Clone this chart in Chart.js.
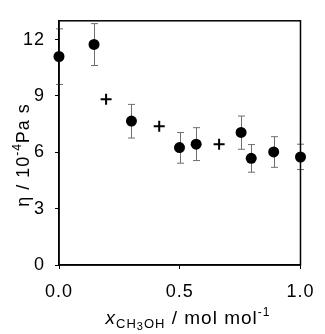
<!DOCTYPE html>
<html>
<head>
<meta charset="utf-8">
<script src="https://cdn.jsdelivr.net/npm/chart.js@4"></script>
<style>
  body { margin: 0; background: #fff; }
  #wrap { width: 325px; height: 334px; }
</style>
</head>
<body>
<div id="wrap"><canvas id="viscChart"></canvas></div>
<script>
// measured points (filled circles) with error bars
const xCircles = [0, 0.145, 0.30, 0.499, 0.568, 0.754, 0.796, 0.889, 1.0];
const yCircles = [11.1, 11.74, 7.66, 6.25, 6.43, 7.06, 5.68, 6.02, 5.75];
const errHigh = [12.57, 12.85, 8.55, 7.05, 7.31, 7.93, 6.41, 6.83, 6.43];
const errLow = [9.61, 10.62, 6.76, 5.42, 5.56, 6.16, 4.94, 5.2, 5.08];
// other values (plus markers)
const xPlus = [0.195, 0.415, 0.663];
const yPlus = [8.82, 7.38, 6.43];
// axes
const yTicks = [0, 3, 6, 9, 12];
const xTicks = [0, 0.5, 1.0];

const FONT = "'Liberation Sans', Arial, sans-serif";

// draws error bars, the frame and the two axis titles
const extras = {
    id: "extras",
    beforeInit(chart) {
        chart.ctx.letterSpacing = "1px"; // the original lettering is a bit spaced
    },
    beforeDraw(chart) {
        chart.ctx.letterSpacing = "1px";
    },
    beforeDatasetsDraw(chart) {
        const ctx = chart.ctx;
        const xs = chart.scales.x, ys = chart.scales.y;
        ctx.save();
        ctx.strokeStyle = "#6e6e6e";
        ctx.lineWidth = 1;
        for (let i = 0; i < xCircles.length; i++) {
            const px = Math.round(xs.getPixelForValue(xCircles[i])) + 0.5;
            const top = ys.getPixelForValue(errHigh[i]);
            const bot = ys.getPixelForValue(errLow[i]);
            ctx.beginPath();
            ctx.moveTo(px, top); ctx.lineTo(px, bot);
            ctx.moveTo(px - 3.5, top); ctx.lineTo(px + 3.5, top);
            ctx.moveTo(px - 3.5, bot); ctx.lineTo(px + 3.5, bot);
            ctx.stroke();
        }
        ctx.restore();
    },
    afterDraw(chart) {
        const ctx = chart.ctx;
        const a = chart.chartArea;
        ctx.save();
        ctx.letterSpacing = "1px";
        // frame
        ctx.strokeStyle = "#000";
        ctx.lineWidth = 1.5;
        ctx.strokeRect(a.left, a.top, a.right - a.left, a.bottom - a.top);

        ctx.fillStyle = "#000";
        ctx.textBaseline = "alphabetic";

        // x title: x_CH3OH / mol mol^-1
        const parts = [
            { t: "x", f: "italic 19px " + FONT, dy: 0 },
            { t: "CH", f: "13px " + FONT, dy: 4 },
            { t: "3", f: "11px " + FONT, dy: 6 },
            { t: "OH", f: "13px " + FONT, dy: 4 },
            { t: " / mol mol", f: "19px " + FONT, dy: 0 },
            { t: "-1", f: "12px " + FONT, dy: -8 }
        ];
        let w = 0;
        parts.forEach(p => { ctx.font = p.f; p.w = ctx.measureText(p.t).width; w += p.w; });
        let x0 = 188 - w / 2;
        const yBase = 324;
        parts.forEach(p => {
            ctx.font = p.f;
            ctx.fillText(p.t, x0, yBase + p.dy);
            x0 += p.w;
        });

        // y title: η / 10^-4 Pa s (rotated)
        const yparts = [
            { t: "η / 10", f: "18px " + FONT, dy: 0 },
            { t: "-4", f: "12px " + FONT, dy: -8 },
            { t: "Pa s", f: "18px " + FONT, dy: 0 }
        ];
        let wy = 0;
        yparts.forEach(p => { ctx.font = p.f; p.w = ctx.measureText(p.t).width; wy += p.w; });
        ctx.translate(29, 155);
        ctx.rotate(-Math.PI / 2);
        let s = -wy / 2;
        yparts.forEach(p => {
            ctx.font = p.f;
            ctx.fillText(p.t, s, p.dy);
            s += p.w;
        });
        ctx.restore();
    }
};

const ctx = document.getElementById("viscChart").getContext("2d");
const chart = new Chart(ctx, {
    type: "scatter",
    data: {
        datasets: [
            {
                data: xCircles.map((x, i) => ({ x: x, y: yCircles[i] })),
                pointStyle: "circle",
                pointRadius: 5.5,
                pointBackgroundColor: "#000",
                pointBorderColor: "#000",
                pointBorderWidth: 0,
                clip: false
            },
            {
                data: xPlus.map((x, i) => ({ x: x, y: yPlus[i] })),
                pointStyle: "cross",
                pointRadius: 5.5,
                pointBorderColor: "#000",
                pointBorderWidth: 2,
                clip: false
            }
        ]
    },
    options: {
        responsive: true,
        maintainAspectRatio: false,
        animation: false,
        layout: { padding: { top: 20, right: 20, left: 0, bottom: 0 } },
        plugins: {
            legend: { display: false },
            tooltip: { enabled: false }
        },
        scales: {
            x: {
                type: "linear",
                min: 0,
                max: 1,
                afterBuildTicks: s => { s.ticks = xTicks.map(v => ({ value: v })); },
                afterFit: s => { s.height = 69; },
                ticks: {
                    color: "#000",
                    font: { family: FONT, size: 18 },
                    padding: 12,
                    maxRotation: 0,
                    callback: v => v.toFixed(1)
                },
                grid: { drawOnChartArea: false, tickLength: 4, color: "#000" },
                border: { color: "#000", width: 1.5 }
            },
            y: {
                min: 0,
                max: 13,
                afterBuildTicks: s => { s.ticks = yTicks.map(v => ({ value: v })); },
                afterFit: s => { s.width = 59; },
                ticks: {
                    color: "#000",
                    font: { family: FONT, size: 18 },
                    padding: 10
                },
                grid: { drawOnChartArea: false, tickLength: 4, color: "#000" },
                border: { color: "#000", width: 1.5 }
            }
        }
    },
    plugins: [extras]
});
</script>
</body>
</html>
